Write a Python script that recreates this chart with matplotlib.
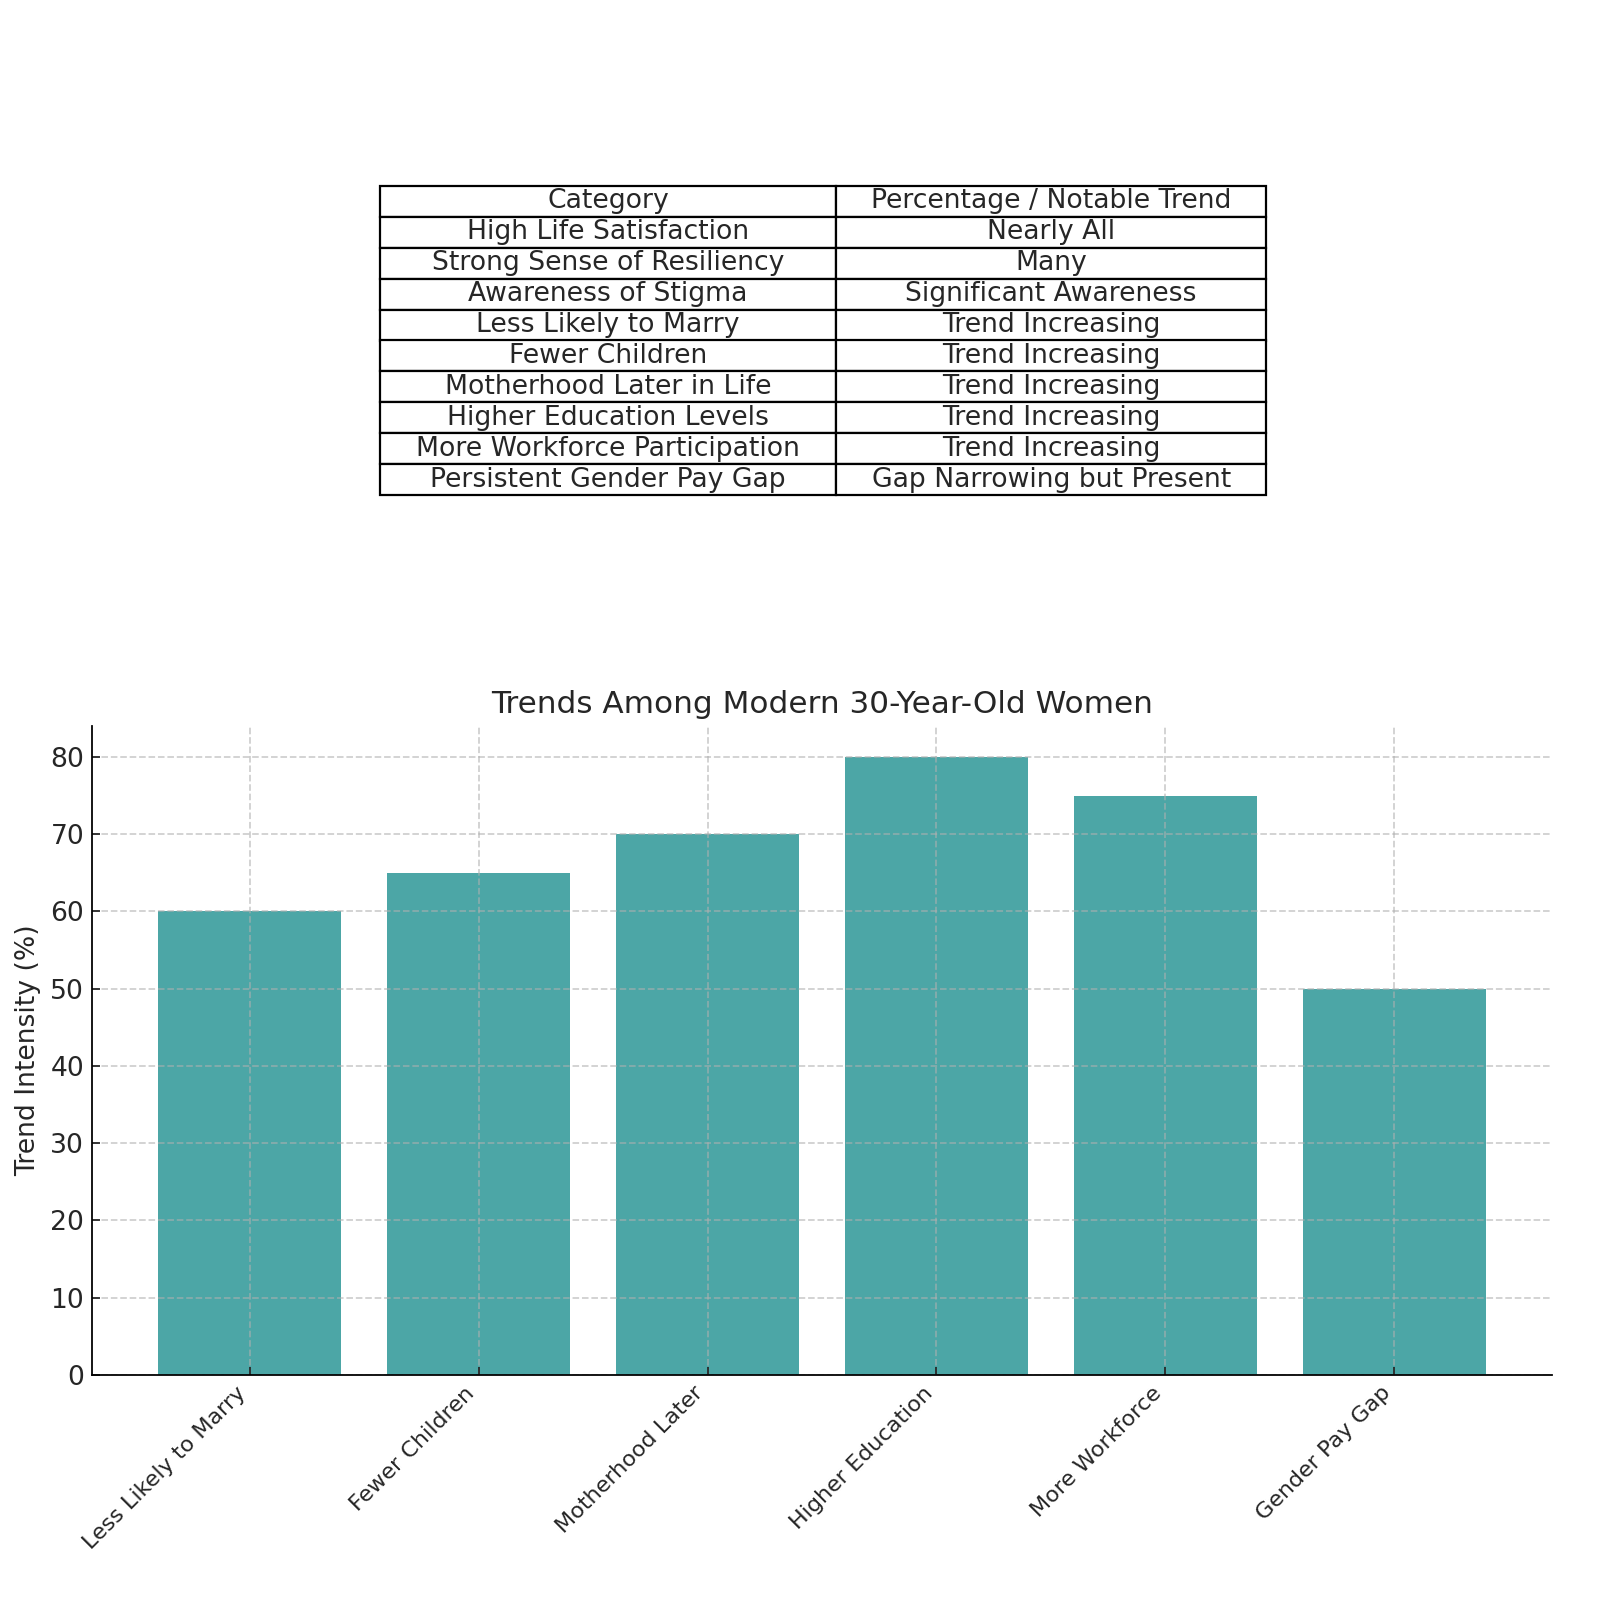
import matplotlib
matplotlib.use("Agg")
import matplotlib.pyplot as plt

# table data
table_header = ["Category", "Percentage / Notable Trend"]
table_categories = [
    "High Life Satisfaction",
    "Strong Sense of Resiliency",
    "Awareness of Stigma",
    "Less Likely to Marry",
    "Fewer Children",
    "Motherhood Later in Life",
    "Higher Education Levels",
    "More Workforce Participation",
    "Persistent Gender Pay Gap",
]
table_trends = [
    "Nearly All",
    "Many",
    "Significant Awareness",
    "Trend Increasing",
    "Trend Increasing",
    "Trend Increasing",
    "Trend Increasing",
    "Trend Increasing",
    "Gap Narrowing but Present",
]

# bar data
bar_labels = [
    "Less Likely to Marry",
    "Fewer Children",
    "Motherhood Later",
    "Higher Education",
    "More Workforce",
    "Gender Pay Gap",
]
bar_values = [60, 65, 70, 80, 75, 50]

text_color = "#262626"
plt.rcParams["text.color"] = text_color
plt.rcParams["axes.labelcolor"] = text_color
plt.rcParams["xtick.color"] = text_color
plt.rcParams["ytick.color"] = text_color

fig = plt.figure(figsize=(10, 10), dpi=160)

# table on top
tax = fig.add_axes([0, 0, 1, 1])
tax.axis("off")
cell_text = [[c, t] for c, t in zip(table_categories, table_trends)]
tbl = tax.table(
    cellText=cell_text,
    colLabels=table_header,
    cellLoc="center",
    colWidths=[0.515, 0.485],
    bbox=[380 / 1600, 1 - 495 / 1600, 886 / 1600, 309 / 1600],
)
tbl.auto_set_font_size(False)
tbl.set_fontsize(12)

# bar chart
ax = fig.add_axes([92 / 1600, 1 - 1375 / 1600, 1460 / 1600, 649 / 1600])
ax.bar(bar_labels, bar_values, color="teal", alpha=0.7)
ax.set_title("Trends Among Modern 30-Year-Old Women", fontsize=14)
ax.set_ylabel("Trend Intensity (%)", fontsize=12)
ax.tick_params(direction="in")
ax.tick_params(axis="y", labelsize=12)
ax.tick_params(axis="x", labelsize=10)
plt.setp(ax.get_xticklabels(), rotation=45, ha="right")
ax.grid(True, linestyle="--", alpha=0.6)
ax.spines["top"].set_visible(False)
ax.spines["right"].set_visible(False)

fig.savefig("out.png", dpi=160)
